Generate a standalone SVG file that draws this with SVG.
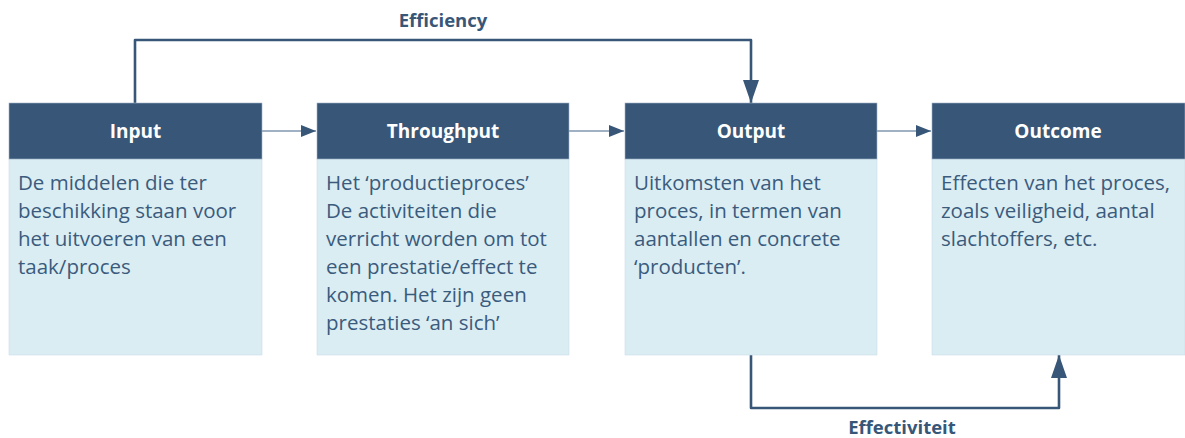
<svg xmlns="http://www.w3.org/2000/svg" width="1185" height="438" viewBox="0 0 1185 438">
<style>
.hd{fill:#385778;stroke:#9fb3c8;stroke-width:0.6}
.bd{fill:#daedf3;stroke:#c9dde6;stroke-width:0.6}
.ht{font-family:"Open Sans","Liberation Sans",sans-serif;font-weight:bold;font-size:19px;fill:#ffffff;text-anchor:middle}
.tx{font-family:"Open Sans","Liberation Sans",sans-serif;font-size:20.5px;fill:#3b5b7d}
.lb{font-family:"Open Sans","Liberation Sans",sans-serif;font-weight:bold;font-size:18.5px;fill:#385778;text-anchor:middle}
.thin{fill:none;stroke:#8097b0;stroke-width:1.6}
.thick{fill:none;stroke:#385778;stroke-width:2.6;stroke-linejoin:round}
</style>
<defs>
<marker id="sm" markerWidth="16" markerHeight="12" refX="15" refY="6" orient="auto" markerUnits="userSpaceOnUse">
<path d="M0,0 L15,6 L0,12 Z" fill="#385778"/>
</marker>
<marker id="big" markerWidth="24" markerHeight="16" refX="23" refY="8" orient="auto" markerUnits="userSpaceOnUse">
<path d="M0,0 L23,8 L0,16 Z" fill="#385778"/>
</marker>
</defs>
<g id="connectors">
<line class="thin" x1="262" y1="131" x2="316" y2="131" marker-end="url(#sm)"/>
<line class="thin" x1="569" y1="131" x2="624" y2="131" marker-end="url(#sm)"/>
<line class="thin" x1="877" y1="131" x2="931" y2="131" marker-end="url(#sm)"/>
<path class="thick" d="M135,103 L135,40 L751,40 L751,103" marker-end="url(#big)"/>
<path class="thick" d="M751,355 L751,408 L1059,408 L1059,355" marker-end="url(#big)"/>
<text class="lb" x="443" y="27">Efficiency</text>
<text class="lb" x="902" y="434">Effectiviteit</text>
</g>
<g id="input">
<rect class="bd" x="9" y="159" width="253" height="196"/>
<rect class="hd" x="9" y="103" width="253" height="56"/>
<text class="ht" x="135.5" y="138">Input</text>
<text class="tx"><tspan x="18" y="190">De middelen die ter</tspan><tspan x="18" y="218">beschikking staan voor</tspan><tspan x="18" y="246">het uitvoeren van een</tspan><tspan x="18" y="274">taak/proces</tspan></text>
</g>
<g id="throughput">
<rect class="bd" x="317" y="159" width="252" height="196"/>
<rect class="hd" x="317" y="103" width="252" height="56"/>
<text class="ht" x="443" y="138">Throughput</text>
<text class="tx"><tspan x="326" y="190">Het ‘productieproces’</tspan><tspan x="326" y="218">De activiteiten die</tspan><tspan x="326" y="246">verricht worden om tot</tspan><tspan x="326" y="274">een prestatie/effect te</tspan><tspan x="326" y="302">komen. Het zijn geen</tspan><tspan x="326" y="330">prestaties ‘an sich’</tspan></text>
</g>
<g id="output">
<rect class="bd" x="625" y="159" width="252" height="196"/>
<rect class="hd" x="625" y="103" width="252" height="56"/>
<text class="ht" x="751" y="138">Output</text>
<text class="tx"><tspan x="634" y="190">Uitkomsten van het</tspan><tspan x="634" y="218">proces, in termen van</tspan><tspan x="634" y="246">aantallen en concrete</tspan><tspan x="634" y="274">‘producten’.</tspan></text>
</g>
<g id="outcome">
<rect class="bd" x="932" y="159" width="253" height="196"/>
<rect class="hd" x="932" y="103" width="253" height="56"/>
<text class="ht" x="1058" y="138">Outcome</text>
<text class="tx"><tspan x="941" y="190">Effecten van het proces,</tspan><tspan x="941" y="218">zoals veiligheid, aantal</tspan><tspan x="941" y="246">slachtoffers, etc.</tspan></text>
</g>
</svg>
